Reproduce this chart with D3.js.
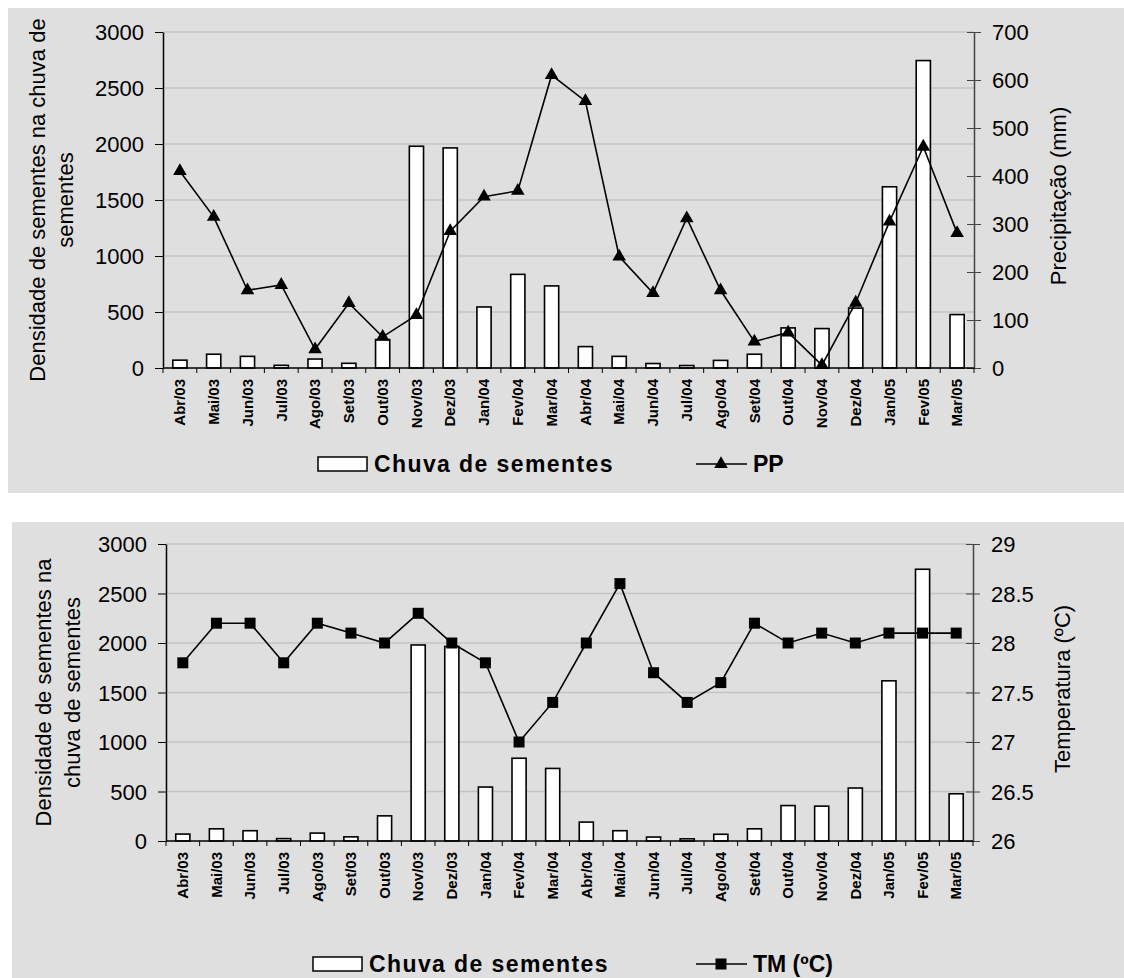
<!DOCTYPE html>
<html>
<head>
<meta charset="utf-8">
<script src="https://cdn.jsdelivr.net/npm/d3@7"></script>
<style>
  body { margin: 0; background: #fff; }
  svg text { font-family: "Liberation Sans", Arial, sans-serif; fill: #000; }
</style>
</head>
<body>
<script>
// meses da serie (abr/03 a mar/05)
const months = ["Abr/03","Mai/03","Jun/03","Jul/03","Ago/03","Set/03","Out/03","Nov/03","Dez/03","Jan/04","Fev/04","Mar/04",
                "Abr/04","Mai/04","Jun/04","Jul/04","Ago/04","Set/04","Out/04","Nov/04","Dez/04","Jan/05","Fev/05","Mar/05"];
// densidade de sementes (barras, eixo esquerdo)
const seedRain = [70,123,104,24,80,42,254,1980,1965,545,836,733,191,104,40,22,68,123,358,352,535,1618,2745,477];
// precipitacao mensal (mm)
const precip = [410,315,162,173,39,135,65,110,285,357,369,610,556,232,156,312,162,55,74,6,136,305,461,281];
// temperatura media (C)
const tempMean = [27.8,28.2,28.2,27.8,28.2,28.1,28.0,28.3,28.0,27.8,27.0,27.4,28.0,28.6,27.7,27.4,27.6,28.2,28.0,28.1,28.0,28.1,28.1,28.1];

const leftTicks = [0,500,1000,1500,2000,2500,3000];
const precipTicks = [0,100,200,300,400,500,600,700];
const tempTicks = [26,26.5,27,27.5,28,28.5,29];

const svg = d3.select("body").append("svg")
    .attr("width", 1124)
    .attr("height", 978);

function drawPanel(o) {
    const g = svg.append("g");
    g.append("rect")
        .attr("x", o.bg[0]).attr("y", o.bg[1])
        .attr("width", o.bg[2]).attr("height", o.bg[3])
        .attr("fill", "#dfdfdf");

    const x = d3.scaleBand().domain(months).range([o.l, o.r]);
    const yL = d3.scaleLinear().domain([0, 3000]).range([o.b, o.t]);
    const yR = d3.scaleLinear().domain(o.rightDomain).range([o.b, o.t]);

    // linhas de grade
    g.selectAll(".grid")
        .data(leftTicks.slice(1))
        .enter().append("line")
        .attr("x1", o.l).attr("x2", o.r)
        .attr("y1", d => yL(d)).attr("y2", d => yL(d))
        .attr("stroke", "#c4c4c4")
        .attr("stroke-width", 1.5);

    // eixo esquerdo
    const axL = g.append("g")
        .attr("transform", "translate(" + o.l + ",0)")
        .call(d3.axisLeft(yL).tickValues(leftTicks).tickFormat(d3.format("d"))
            .tickSize(8).tickPadding(11).tickSizeOuter(0));
    axL.select(".domain").attr("stroke", "#000").attr("stroke-width", 1.5);
    axL.selectAll(".tick line").attr("stroke", "#000");
    axL.selectAll("text").style("font-size", "22px").attr("dy", "0.36em");

    // eixo direito (ticks cruzando o eixo)
    const axR = g.append("g")
        .attr("transform", "translate(" + o.r + ",0)")
        .call(d3.axisRight(yR).tickValues(o.rightTicks).tickFormat(d => String(d))
            .tickSize(7).tickPadding(11).tickSizeOuter(0));
    axR.select(".domain").attr("stroke", "#444").attr("stroke-width", 1.5);
    axR.selectAll(".tick line").attr("x1", -7).attr("stroke", "#444");
    axR.selectAll("text").style("font-size", "22px").attr("dy", "0.36em");

    // barras
    const bw = x.bandwidth() * 0.42;
    g.selectAll(".bar")
        .data(seedRain)
        .enter().append("rect")
        .attr("x", (d, i) => x(months[i]) + (x.bandwidth() - bw) / 2)
        .attr("y", d => yL(d))
        .attr("width", bw)
        .attr("height", d => yL(0) - yL(d))
        .attr("fill", "#fff")
        .attr("stroke", "#000")
        .attr("stroke-width", 1.6);

    // eixo x
    g.append("line")
        .attr("x1", o.l).attr("x2", o.r)
        .attr("y1", o.b).attr("y2", o.b)
        .attr("stroke", "#000").attr("stroke-width", 1.5);
    g.selectAll(".xtick")
        .data(months.concat(["end"]))
        .enter().append("line")
        .attr("x1", (d, i) => o.l + i * x.step())
        .attr("x2", (d, i) => o.l + i * x.step())
        .attr("y1", o.b).attr("y2", o.b + 5)
        .attr("stroke", "#000");
    g.selectAll(".xlab")
        .data(months)
        .enter().append("text")
        .text(d => d)
        .attr("transform", d => "translate(" + (x(d) + x.bandwidth() / 2) + "," + (o.b + 11) + ") rotate(-90)")
        .attr("dy", "0.35em")
        .style("text-anchor", "end")
        .style("font-size", "15px")
        .style("font-weight", "bold");

    // linha da serie do eixo direito
    const pts = o.series.map((v, i) => [x(months[i]) + x.bandwidth() / 2, yR(v)]);
    g.append("path")
        .attr("d", d3.line()(pts))
        .attr("fill", "none")
        .attr("stroke", "#000")
        .attr("stroke-width", 1.6);
    g.selectAll(".mk")
        .data(pts)
        .enter().append("path")
        .attr("d", d3.symbol().type(o.marker).size(o.markerSize))
        .attr("transform", d => "translate(" + d[0] + "," + d[1] + ")")
        .attr("fill", "#000");

    // titulos dos eixos
    const midY = (o.t + o.b) / 2;
    o.leftTitle.forEach((t, i) => {
        g.append("text")
            .text(t)
            .attr("transform", "translate(" + o.leftTitleX[i] + "," + midY + ") rotate(-90)")
            .attr("dy", "0.35em")
            .style("text-anchor", "middle")
            .style("font-size", "22px");
    });
    g.append("text")
        .text(o.rightTitle)
        .attr("transform", "translate(" + o.rightTitleX + "," + o.rightTitleY + ") rotate(-90)")
        .attr("dy", "0.35em")
        .style("text-anchor", "middle")
        .style("font-size", "22px");

    // legenda
    const ly = o.legendY;
    g.append("rect")
        .attr("x", o.legendX).attr("y", ly - 7)
        .attr("width", 49).attr("height", 14)
        .attr("fill", "#fff").attr("stroke", "#000").attr("stroke-width", 1.5);
    g.append("text")
        .text("Chuva de sementes")
        .attr("x", o.legendX + 56).attr("y", ly + 8)
        .style("font-size", "23px").style("font-weight", "bold")
        .style("letter-spacing", "1.4px");
    g.append("line")
        .attr("x1", 696).attr("x2", 747)
        .attr("y1", ly).attr("y2", ly)
        .attr("stroke", "#000").attr("stroke-width", 1.5);
    g.append("path")
        .attr("d", d3.symbol().type(o.marker).size(o.markerSize))
        .attr("transform", "translate(721," + ly + ")");
    g.append("text")
        .text(o.lineLabel)
        .attr("x", 753).attr("y", ly + 8)
        .style("font-size", "23px").style("font-weight", "bold");
}

drawPanel({
    bg: [8, 8, 1116, 485],
    l: 163, r: 974, t: 32, b: 368,
    rightDomain: [0, 700], rightTicks: precipTicks,
    series: precip,
    marker: d3.symbolTriangle, markerSize: 80,
    leftTitle: ["Densidade de sementes na chuva de", "sementes"],
    leftTitleX: [37, 65],
    rightTitle: "Precipitação (mm)", rightTitleX: 1058, rightTitleY: 196,
    legendX: 318, legendY: 464,
    lineLabel: "PP"
});

drawPanel({
    bg: [12, 522, 1112, 456],
    l: 166, r: 973, t: 544, b: 841,
    rightDomain: [26, 29], rightTicks: tempTicks,
    series: tempMean,
    marker: d3.symbolSquare, markerSize: 121,
    leftTitle: ["Densidade de sementes na", "chuva de sementes"],
    leftTitleX: [43, 72],
    rightTitle: "Temperatura (ºC)", rightTitleX: 1062, rightTitleY: 689,
    legendX: 313, legendY: 964,
    lineLabel: "TM (ºC)"
});
</script>
</body>
</html>
